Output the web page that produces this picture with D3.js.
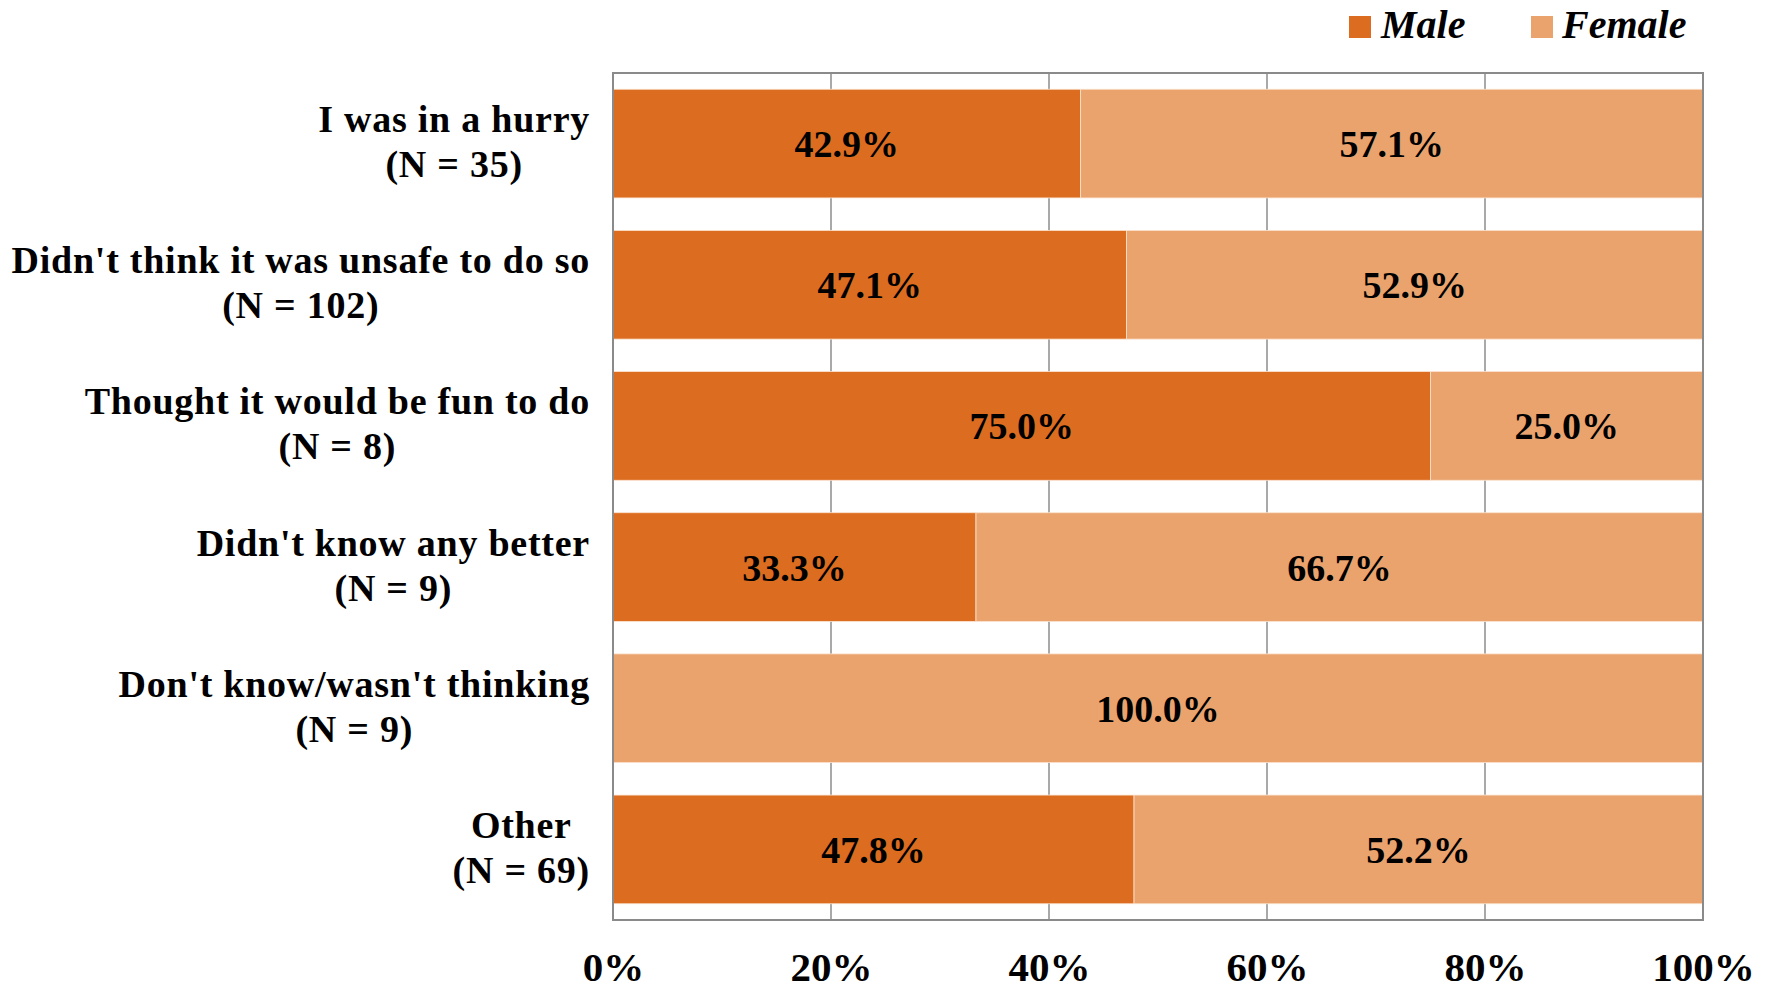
<!DOCTYPE html>
<html>
<head>
<meta charset="utf-8">
<script src="https://cdn.jsdelivr.net/npm/d3@7"></script>
<style>
  html, body { margin: 0; padding: 0; background: #fff; }
  svg { display: block; }
  text { font-family: "Liberation Serif", "Times New Roman", serif; font-weight: bold; fill: #000; }
</style>
</head>
<body>
<svg id="chart" width="1771" height="992"></svg>
<script>
const categories = [
  ["I was in a hurry", "(N = 35)"],
  ["Didn't think it was unsafe to do so", "(N = 102)"],
  ["Thought it would be fun to do", "(N = 8)"],
  ["Didn't know any better", "(N = 9)"],
  ["Don't know/wasn't thinking", "(N = 9)"],
  ["Other", "(N = 69)"]
];
const seriesNames = ["Male", "Female"];
const maleValues = [42.9, 47.1, 75.0, 33.3, 0.0, 47.8];
const femaleValues = [57.1, 52.9, 25.0, 66.7, 100.0, 52.2];
const tickValues = [0, 20, 40, 60, 80, 100];
const colors = ["#DC6C1F", "#EBA36E"];

(function () {
const svg = d3.select("#chart");
const pLeft = 613, pRight = 1703, pTop = 73, pBottom = 920;

const keys = categories.map((c, i) => i);
const x = d3.scaleLinear().domain([0, 100]).range([pLeft, pRight]);
const y = d3.scaleBand().domain(keys).range([pTop, pBottom]).paddingInner(0.23).paddingOuter(0.115);

// gridlines
svg.append("g").selectAll("line").data(tickValues.slice(1, -1)).join("line")
  .attr("x1", d => x(d)).attr("x2", d => x(d))
  .attr("y1", pTop).attr("y2", pBottom)
  .attr("stroke", "#8c8c8c").attr("stroke-width", 1.5);

// stacked bars
const rows = keys.map(i => ({ i, Male: maleValues[i], Female: femaleValues[i] }));
const stack = d3.stack().keys(seriesNames)(rows);
const layers = svg.append("g").selectAll("g").data(stack).join("g")
  .attr("fill", (d, k) => colors[k]);
layers.selectAll("rect").data(d => d).join("rect")
  .attr("x", d => x(d[0]))
  .attr("width", d => x(d[1]) - x(d[0]))
  .attr("y", d => y(d.data.i))
  .attr("height", y.bandwidth())
  .attr("stroke", "#fbe3cf").attr("stroke-width", 0.8);

// data labels
layers.selectAll("text").data(d => d.filter(v => v[1] - v[0] > 0)).join("text")
  .attr("x", d => (x(d[0]) + x(d[1])) / 2)
  .attr("y", d => y(d.data.i) + y.bandwidth() / 2 + 13.5)
  .attr("text-anchor", "middle")
  .style("font-size", "38px")
  .text(d => (d[1] - d[0]).toFixed(1) + "%");

// plot border
svg.append("rect")
  .attr("x", pLeft).attr("y", pTop)
  .attr("width", pRight - pLeft).attr("height", pBottom - pTop)
  .attr("fill", "none").attr("stroke", "#8a8a8a").attr("stroke-width", 2);

// category labels (block right-aligned, lines centered)
const labelRight = 590;
const catG = svg.append("g");
categories.forEach((lines, i) => {
  const cy = y(i) + y.bandwidth() / 2;
  const g = catG.append("g");
  const texts = lines.map((t, j) => g.append("text")
    .attr("y", cy - 11.5 + j * 45)
    .style("font-size", "38px")
    .style("letter-spacing", "0.75px")
    .attr("text-anchor", "middle")
    .text(t));
  const widths = texts.map(t => t.node().getComputedTextLength());
  const w = Math.max(...widths);
  texts.forEach(t => t.attr("x", labelRight - w / 2));
});

// x axis
const axis = d3.axisBottom(x).tickValues(tickValues).tickSize(0).tickFormat(d => d + "%");
const ax = svg.append("g").attr("transform", `translate(0,${pBottom})`).call(axis);
ax.select(".domain").remove();
ax.selectAll("text")
  .attr("y", 61).attr("dy", 0)
  .style("font-size", "41px")
  .style("font-family", "'Liberation Serif', serif")
  .style("font-weight", "bold")
  .attr("fill", "#000");

// legend
const legendX = [1349, 1531];
const lg = svg.append("g").selectAll("g").data(seriesNames).join("g")
  .attr("transform", (d, k) => `translate(${legendX[k]},16)`);
lg.append("rect").attr("width", 22).attr("height", 22).attr("fill", (d, k) => colors[k]);
lg.append("text").attr("x", (d, k) => k === 0 ? 32 : 31).attr("y", 22)
  .style("font-size", "40px").style("font-style", "italic")
  .text(d => d);
})();
</script>
</body>
</html>
